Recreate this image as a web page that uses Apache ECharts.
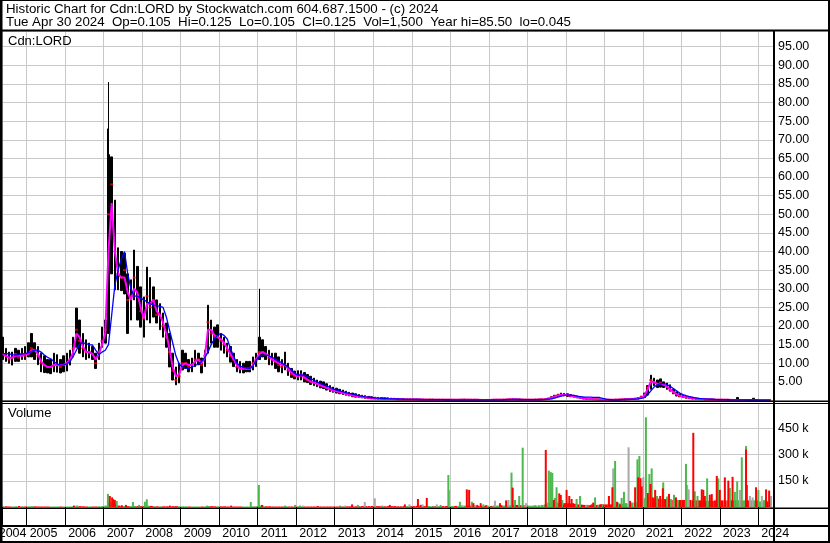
<!DOCTYPE html>
<html>
<head>
<meta charset="utf-8">
<script src="https://cdn.jsdelivr.net/npm/echarts@6/dist/echarts.min.js"></script>
<style>
  html, body { margin: 0; padding: 0; background: #fff; }
  #chart { width: 830px; height: 543px; }
</style>
</head>
<body>
<div id="chart"></div>
<script>
// monthly values, first entry = May 2004, last = Apr 2024
const hi = [
  17, 14, 13, 13, 14, 13.5, 14, 14.5,
  15.5, 18, 15.5, 14.5, 12.7, 12, 11, 11, 12.7, 12.3, 11, 12,
  12.7, 13.5, 17, 24.8, 21.6, 18, 16.3, 15.4, 14.5, 12.7, 15.4, 19.7,
  21.6, 66, 65.4, 53.8, 41, 40, 39.5, 34, 32.4, 40.4, 36, 30.5,
  27.8, 35.8, 33, 30.5, 27, 26, 23.5, 20.8, 18, 12.7, 9, 10,
  13.5, 12.7, 11, 11.4, 13.5, 12.7, 11.4, 13.5, 25.6, 21.6, 19.7, 20.3,
  18, 17, 15.4, 14.5, 12.7, 11, 10.5, 10, 10.5, 10.5, 11.7, 12.7,
  17, 16.3, 14.5, 13.5, 12.7, 12.7, 11.7, 11, 13, 10, 8.6, 7.9,
  8, 8, 7.5, 7, 6.5, 6, 5.5, 5.2, 5, 4.5, 4, 3.6,
  3.3, 3, 2.8, 2.5, 2.2, 2, 1.8, 1.6, 1.4, 1.3, 1.1, 1,
  0.9, 0.85, 0.8, 0.75, 0.7, 0.65, 0.6, 0.55, 0.5, 0.5, 0.45, 0.45,
  0.4, 0.4, 0.4, 0.38, 0.35, 0.35, 0.33, 0.3, 0.3, 0.3, 0.28, 0.28,
  0.3, 0.28, 0.28, 0.3, 0.32, 0.3, 0.3, 0.28, 0.28, 0.26, 0.26, 0.25,
  0.25, 0.28, 0.3, 0.3, 0.3, 0.32, 0.4, 0.45, 0.4, 0.35, 0.32, 0.3,
  0.3, 0.3, 0.32, 0.35, 0.4, 0.45, 0.6, 1.0, 1.4, 1.7, 2.0, 1.9,
  1.8, 1.6, 1.4, 1.2, 1.0, 0.8, 0.6, 0.5, 0.45, 0.4, 0.35, 0.3,
  0.3, 0.28, 0.25, 0.3, 0.35, 0.4, 0.45, 0.5, 0.55, 0.6, 0.8, 1.2,
  2, 4, 6.8, 6, 5.5, 5.8, 5, 4.7, 4.2, 3, 2.3, 1.8,
  1.5, 1.2, 1, 0.9, 0.7, 0.6, 0.5, 0.45, 0.4, 0.4, 0.35, 0.3,
  0.3, 0.28, 0.3, 0.26, 0.25, 0.8, 0.25, 0.22, 0.22, 0.2, 0.6, 0.2,
  0.18, 0.18, 0.16, 0.15
];
const lo = [
  11, 10.5, 10, 9.5, 10.5, 10.5, 11, 11,
  11.7, 11.7, 11, 9.6, 7.7, 7.5, 7.4, 7.2, 7.7, 7.6, 7.4, 7.7,
  7.9, 9.5, 11.7, 14.3, 12.7, 11.7, 11, 11.4, 11, 8.6, 11, 14.3,
  15.4, 18, 34, 29.7, 29.7, 29.5, 28.6, 18, 21.6, 27, 21.6, 19.7,
  17, 21.6, 20.8, 22.4, 20.8, 19, 17, 14.3, 9, 5.5, 4.2, 4.7,
  8.2, 8.6, 7.7, 7.7, 9.1, 9.6, 7.4, 9.1, 12.7, 15.4, 14.3, 14.3,
  13.5, 12.7, 11.7, 10.3, 9.1, 7.7, 7.4, 7.4, 7.7, 7.7, 8.2, 9.1,
  11, 11.7, 11, 9.6, 9.5, 8.6, 7.7, 7.4, 8.2, 6.7, 6.2, 5.8,
  5.5, 5.5, 5, 4.8, 4.3, 4, 3.7, 3.4, 3.2, 2.8, 2.4, 2.2,
  2, 1.8, 1.6, 1.4, 1.2, 1, 0.9, 0.8, 0.7, 0.6, 0.5, 0.45,
  0.4, 0.38, 0.35, 0.33, 0.3, 0.28, 0.26, 0.25, 0.23, 0.22, 0.2, 0.2,
  0.18, 0.18, 0.17, 0.16, 0.15, 0.15, 0.14, 0.14, 0.13, 0.13, 0.12, 0.12,
  0.12, 0.11, 0.12, 0.13, 0.14, 0.13, 0.13, 0.12, 0.12, 0.11, 0.11, 0.1,
  0.1, 0.12, 0.14, 0.14, 0.15, 0.16, 0.2, 0.22, 0.2, 0.18, 0.16, 0.15,
  0.15, 0.15, 0.16, 0.17, 0.2, 0.22, 0.3, 0.5, 0.8, 1.0, 1.2, 1.2,
  1.1, 1.0, 0.9, 0.7, 0.6, 0.45, 0.35, 0.3, 0.25, 0.2, 0.18, 0.16,
  0.15, 0.14, 0.12, 0.14, 0.18, 0.2, 0.22, 0.25, 0.28, 0.3, 0.4, 0.6,
  0.8, 1.5, 3, 4, 3.5, 3.6, 3.5, 3, 2.5, 1.8, 1.2, 1,
  0.8, 0.6, 0.5, 0.4, 0.35, 0.3, 0.25, 0.2, 0.2, 0.15, 0.15, 0.12,
  0.12, 0.11, 0.12, 0.1, 0.1, 0.1, 0.09, 0.09, 0.08, 0.08, 0.08, 0.08,
  0.07, 0.07, 0.06, 0.06
];
const cl = [
  12.5, 12, 11, 11.5, 12.5, 11.5, 12.5, 12,
  12.5, 14, 13.5, 12, 10, 9.5, 9, 9, 9.5, 9.5, 9, 9.5,
  10, 11, 14, 19, 16, 14, 13, 13, 12.5, 10, 13, 16,
  19, 50, 58, 40, 34, 33, 35, 27, 28, 33, 28, 24,
  22, 28, 25, 27, 23, 23, 20, 17, 13, 8, 5.5, 6.5,
  10, 10, 9, 9.5, 11, 11, 9.5, 12, 21, 18, 17, 17,
  16, 15, 13.5, 12, 11, 9, 8.5, 8.5, 8.5, 8.5, 10, 11,
  13, 13, 12.5, 11.5, 11, 10.5, 9.5, 9, 9.5, 8, 7, 6.5,
  6.5, 7, 6, 5.5, 5, 4.8, 4.5, 4, 3.8, 3.3, 3, 2.6,
  2.5, 2.2, 2, 1.8, 1.5, 1.3, 1.2, 1, 0.9, 0.8, 0.7, 0.6,
  0.55, 0.5, 0.48, 0.45, 0.42, 0.4, 0.38, 0.35, 0.32, 0.3, 0.3, 0.28,
  0.26, 0.25, 0.25, 0.24, 0.22, 0.22, 0.21, 0.2, 0.2, 0.19, 0.18, 0.18,
  0.18, 0.17, 0.18, 0.2, 0.2, 0.19, 0.18, 0.18, 0.17, 0.16, 0.15, 0.15,
  0.15, 0.18, 0.2, 0.2, 0.22, 0.24, 0.3, 0.32, 0.28, 0.25, 0.22, 0.2,
  0.2, 0.2, 0.22, 0.24, 0.3, 0.35, 0.5, 0.8, 1.1, 1.4, 1.6, 1.5,
  1.4, 1.3, 1.1, 0.9, 0.7, 0.55, 0.45, 0.4, 0.35, 0.3, 0.25, 0.22,
  0.2, 0.18, 0.16, 0.2, 0.25, 0.3, 0.33, 0.35, 0.4, 0.45, 0.6, 0.9,
  1.6, 3.5, 5.5, 4.8, 4.3, 4.8, 4.2, 3.6, 2.8, 2.2, 1.6, 1.2,
  1, 0.8, 0.7, 0.6, 0.5, 0.4, 0.35, 0.3, 0.3, 0.25, 0.2, 0.2,
  0.18, 0.16, 0.17, 0.15, 0.14, 0.15, 0.13, 0.13, 0.12, 0.12, 0.12, 0.11,
  0.11, 0.12, 0.11, 0.125
];
// one-day spikes [year, low, high]
const spikes = [[2007.10, 40, 73], [2007.12, 30, 85.5], [2011.04, 12, 30]];
// magenta (short) moving average
const maShort = [
  12.5, 12, 11.5, 11.5, 12, 12, 12, 12.5,
  12.5, 13.5, 13.5, 12.5, 10.5, 9.5, 9, 9, 9.5, 9.5, 9.5, 9.5,
  10, 11, 13, 18, 17, 14.5, 13, 13, 12.5, 11, 12.5, 15,
  18, 40, 53, 40, 34, 33, 33, 29, 27, 30, 29, 25,
  22, 26, 26, 27, 24, 23, 21, 18, 14, 9, 6.5, 7,
  9.5, 10, 9.5, 9.5, 10.5, 11, 10, 11.5, 19, 19, 17.5, 17,
  16.5, 15.5, 14, 12.5, 11, 9.5, 8.5, 8.5, 8.5, 8.5, 9.5, 11,
  12.5, 13, 12.5, 12, 11, 10.5, 10, 9.5, 9.5, 8.5, 7.5, 6.8,
  6.6, 6.8, 6.2, 5.6, 5.1, 4.8, 4.5, 4.1, 3.8, 3.4, 3, 2.7,
  2.5, 2.3, 2.1, 1.8, 1.6, 1.4, 1.2, 1.05, 0.95, 0.85, 0.75, 0.65,
  0.58, 0.52, 0.49, 0.46, 0.43, 0.41, 0.39, 0.36, 0.33, 0.31, 0.3, 0.29,
  0.27, 0.26, 0.25, 0.24, 0.23, 0.22, 0.21, 0.2, 0.2, 0.19, 0.19, 0.18,
  0.18, 0.17, 0.18, 0.19, 0.2, 0.19, 0.18, 0.18, 0.17, 0.16, 0.16, 0.15,
  0.15, 0.17, 0.19, 0.2, 0.22, 0.24, 0.28, 0.31, 0.29, 0.26, 0.23, 0.21,
  0.2, 0.2, 0.22, 0.24, 0.28, 0.33, 0.45, 0.7, 1.0, 1.3, 1.5, 1.5,
  1.45, 1.3, 1.15, 0.95, 0.75, 0.6, 0.48, 0.42, 0.36, 0.31, 0.27, 0.23,
  0.21, 0.19, 0.17, 0.19, 0.23, 0.28, 0.32, 0.35, 0.39, 0.44, 0.55, 0.8,
  1.3, 3, 5.1, 5, 4.4, 4.6, 4.3, 3.7, 3, 2.3, 1.7, 1.3,
  1.05, 0.85, 0.72, 0.62, 0.52, 0.43, 0.37, 0.32, 0.3, 0.26, 0.22, 0.2,
  0.19, 0.17, 0.17, 0.16, 0.15, 0.15, 0.14, 0.13, 0.13, 0.12, 0.12, 0.12,
  0.11, 0.12, 0.11, 0.12
];
// blue (long) moving average
const maLong = [
  12.6, 12.6, 12.5, 12.3, 12.2, 12.3, 12.5, 12.6,
  12.8, 13.2, 13.5, 13.5, 13, 12.2, 11.6, 11.2, 10.5, 9.8, 9.5, 9.5,
  9.8, 10.5, 11.8, 13.5, 15.2, 15.5, 15.3, 15, 14.9, 13.5, 12.3, 13,
  13.5, 15, 23, 31, 35, 38, 40, 34, 30, 28, 28, 27.5,
  27, 26.5, 26, 25.6, 25.5, 25.3, 25, 22.5, 19, 15.5, 12, 9.8,
  9, 8.7, 8.6, 9, 9.4, 9.8, 10.5, 11.5, 13, 15, 16.5, 17.5,
  18, 17.5, 16.5, 14, 11.8, 10, 9.2, 8.9, 8.7, 8.6, 9.2, 10.8,
  11.8, 12.1, 12.2, 12, 11.6, 11.1, 10.6, 10.1, 9.5, 9, 8.2, 7.3,
  6.8, 6.9, 6.8, 6.4, 5.9, 5.4, 5, 4.6, 4.2, 3.9, 3.5, 3.1,
  2.8, 2.6, 2.4, 2.1, 1.9, 1.7, 1.5, 1.3, 1.15, 1, 0.9, 0.8,
  0.7, 0.62, 0.56, 0.52, 0.48, 0.45, 0.42, 0.4, 0.37, 0.34, 0.32, 0.3,
  0.29, 0.28, 0.27, 0.26, 0.25, 0.24, 0.23, 0.22, 0.21, 0.21, 0.2, 0.2,
  0.19, 0.19, 0.18, 0.19, 0.19, 0.19, 0.19, 0.18, 0.18, 0.17, 0.17, 0.16,
  0.16, 0.17, 0.18, 0.19, 0.2, 0.22, 0.25, 0.27, 0.28, 0.27, 0.25, 0.23,
  0.21, 0.21, 0.21, 0.22, 0.25, 0.28, 0.33, 0.45, 0.65, 0.9, 1.15, 1.35,
  1.45, 1.45, 1.35, 1.2, 1.05, 0.95, 0.9, 0.88, 0.86, 0.85, 0.8, 0.6,
  0.35, 0.25, 0.2, 0.19, 0.2, 0.23, 0.27, 0.3, 0.33, 0.37, 0.42, 0.55,
  0.8, 1.5, 2.6, 3.6, 4.2, 4.5, 4.6, 4.3, 3.8, 3.2, 2.6, 2,
  1.6, 1.3, 1.05, 0.85, 0.7, 0.58, 0.48, 0.42, 0.37, 0.33, 0.29, 0.26,
  0.23, 0.21, 0.2, 0.18, 0.17, 0.17, 0.16, 0.15, 0.14, 0.14, 0.13, 0.13,
  0.12, 0.12, 0.12, 0.12
];
// typical monthly volume (thousands of shares)
const volMonth = [
  4, 4, 3, 3, 4, 3, 4, 3,
  4, 5, 4, 3, 3, 3, 3, 3, 3, 3, 3, 3,
  3, 3, 5, 8, 5, 4, 3, 3, 3, 3, 4, 5,
  8, 30, 25, 15, 8, 6, 6, 5, 5, 6, 5, 5,
  5, 8, 6, 5, 4, 4, 4, 4, 4, 5, 5, 4,
  4, 4, 3, 3, 3, 3, 3, 3, 6, 5, 4, 4,
  4, 4, 3, 3, 3, 3, 3, 3, 3, 3, 4, 5,
  8, 5, 4, 4, 3, 3, 3, 3, 4, 3, 3, 3,
  4, 4, 3, 3, 3, 3, 3, 3, 3, 3, 3, 3,
  3, 4, 3, 4, 4, 3, 4, 4, 5, 5, 5, 6,
  6, 5, 5, 4, 5, 5, 4, 4, 4, 5, 5, 5,
  5, 6, 6, 5, 6, 5, 5, 5, 5, 5, 5, 5,
  6, 6, 6, 8, 8, 8, 8, 7, 6, 6, 6, 6,
  6, 8, 8, 8, 8, 10, 10, 12, 12, 10, 10, 10,
  8, 8, 8, 10, 12, 15, 25, 32, 30, 25, 22, 22,
  22, 20, 18, 15, 14, 12, 12, 10, 10, 12, 14, 15,
  15, 15, 18, 20, 20, 18, 20, 20, 25, 28, 32, 38,
  50, 55, 55, 50, 48, 45, 45, 45, 42, 40, 40, 40,
  40, 40, 40, 38, 38, 38, 35, 35, 35, 35, 38, 38,
  38, 38, 38, 38, 38, 38, 38, 38, 38, 38, 38, 38,
  32, 32, 32, 32
];
// single heavy sessions [year, thousands]
const volUp = [
  [2007.11, 75], [2007.34, 34], [2007.76, 29], [2007.92, 12], [2008.07, 30], [2008.12, 44],
  [2009.68, 8], [2010.82, 29], [2011.03, 126], [2011.14, 8], [2011.71, 8], [2011.97, 12],
  [2012.10, 8], [2013.14, 8], [2013.60, 12], [2014.23, 8], [2015.43, 6], [2015.56, 5],
  [2015.75, 12], [2015.95, 183], [2016.25, 30], [2016.56, 30], [2016.86, 15],
  [2017.59, 197], [2017.68, 40], [2017.79, 63], [2017.88, 340], [2018.20, 10],
  [2018.56, 208], [2018.61, 200], [2018.65, 195], [2018.72, 52], [2018.76, 113], [2018.91, 40],
  [2019.28, 46], [2019.37, 63], [2019.76, 55], [2019.84, 10], [2019.94, 15],
  [2020.28, 264], [2020.36, 25], [2020.45, 52], [2020.51, 87], [2020.56, 22], [2020.71, 22],
  [2020.86, 273], [2020.91, 292], [2021.08, 514], [2021.17, 189], [2021.23, 221], [2021.37, 63],
  [2021.53, 141], [2021.63, 60], [2021.73, 45], [2021.81, 70], [2021.91, 40],
  [2022.12, 247], [2022.35, 90], [2022.42, 63], [2022.67, 164], [2022.96, 164],
  [2023.26, 109], [2023.39, 87], [2023.45, 146], [2023.57, 285], [2023.68, 349],
  [2024.00, 97], [2024.15, 40]
];
const volDown = [
  [2004.80, 5], [2006.23, 8], [2007.16, 63], [2007.22, 55], [2007.25, 45], [2007.29, 40],
  [2007.47, 10], [2007.58, 12], [2008.25, 6], [2008.72, 8], [2010.31, 8], [2011.11, 12],
  [2012.56, 5], [2013.45, 15], [2014.43, 12], [2014.56, 5], [2014.82, 15], [2015.16, 46],
  [2015.23, 12], [2015.39, 52], [2015.91, 5], [2016.43, 101], [2016.49, 98], [2016.60, 22],
  [2016.70, 12], [2016.79, 22], [2016.93, 10], [2017.07, 6], [2017.29, 22], [2017.33, 10],
  [2017.45, 38], [2017.62, 111], [2017.72, 10], [2018.48, 327], [2018.69, 40], [2018.83, 78],
  [2018.87, 69], [2018.95, 10], [2019.02, 98], [2019.09, 63], [2019.15, 46], [2019.19, 22],
  [2019.44, 12], [2019.67, 15], [2019.71, 25], [2019.91, 15], [2020.12, 63], [2020.17, 10],
  [2020.21, 113], [2020.33, 30], [2020.41, 15], [2020.67, 35], [2020.80, 113], [2020.88, 170],
  [2020.94, 165], [2020.97, 118], [2021.13, 80], [2021.20, 132], [2021.26, 55], [2021.32, 98],
  [2021.45, 63], [2021.52, 107], [2021.58, 45], [2021.68, 75], [2021.86, 55], [2021.96, 35],
  [2022.31, 425], [2022.53, 101], [2022.57, 98], [2022.61, 63], [2022.74, 70], [2022.79, 74],
  [2022.92, 178], [2023.00, 98], [2023.13, 170], [2023.22, 151], [2023.33, 173], [2023.68, 329],
  [2023.70, 126], [2023.94, 113], [2024.20, 101], [2024.28, 94]
];
const volFlat = [
  [2010.93, 5], [2012.17, 8], [2013.27, 8], [2013.78, 29], [2014.04, 50], [2014.94, 15],
  [2015.28, 15], [2015.65, 15], [2015.97, 96], [2016.31, 10], [2016.64, 10], [2016.96, 10],
  [2017.16, 36], [2017.51, 40], [2017.97, 22], [2018.63, 109], [2019.54, 10], [2020.23, 221],
  [2020.63, 342], [2021.01, 170], [2022.15, 126], [2022.19, 101], [2023.52, 98], [2023.78, 63],
  [2023.85, 55], [2024.09, 63], [2024.33, 63]
];

const xMin = 2004.36, xMax = 2024.38;
const monthT = i => 2004 + (4.5 + i) / 12;
const font = '"Liberation Sans", Arial, sans-serif';
const gridColor = '#c8c8c8';
const green = '#4db84d', red = '#ff0000', grey = '#a8a8a8';
const blackBar = { color: '#000', color0: '#000', borderColor: '#000', borderColor0: '#000', borderWidth: 1 };

const bars = hi.map((h, i) => [monthT(i), lo[i], h, lo[i], h]);
const spikeBars = spikes.map(s => [s[0], s[1], s[2], s[1], s[2]]);
const closes = cl.map((c, i) => [monthT(i), c]);
const shortLine = maShort.map((v, i) => [monthT(i), v]);
const longLine = maLong.map((v, i) => [monthT(i), v]);
const baseUp = [], baseDown = [];
volMonth.forEach((v, i) => {
  const up = i === 0 || cl[i] >= cl[i - 1];
  (up ? baseUp : baseDown).push([monthT(i), v]);
});

function rect(x, y, w, h) {
  return { type: 'rect', silent: true, z: 50, shape: { x, y, width: w, height: h }, style: { fill: '#000' } };
}
function label(x, y, text, size, align) {
  return {
    type: 'text', silent: true, z: 60, x, y,
    style: { text, font: size + 'px ' + font, fill: '#000', verticalAlign: 'middle', align: align || 'left' }
  };
}

const chart = echarts.init(document.getElementById('chart'));
chart.setOption({
  animation: false,
  backgroundColor: '#fff',
  grid: [
    { left: 2, width: 771, top: 31, height: 369.5, outerBoundsMode: 'none', containLabel: false },
    { left: 2, width: 771, top: 403.5, height: 103.5, outerBoundsMode: 'none', containLabel: false }
  ],
  xAxis: [
    {
      gridIndex: 0, type: 'value', min: xMin, max: xMax, minInterval: 1, maxInterval: 1,
      axisLine: { show: false }, axisTick: { show: false }, axisLabel: { show: false },
      splitLine: { show: true, lineStyle: { color: gridColor, width: 1 } }
    },
    {
      gridIndex: 1, type: 'value', min: xMin, max: xMax, minInterval: 1, maxInterval: 1,
      axisLine: { show: false },
      axisTick: { show: true, length: 18, lineStyle: { color: '#000', width: 1 } },
      axisLabel: {
        margin: 20, align: 'left', padding: [0, 0, 0, 3], color: '#000',
        fontFamily: font, fontSize: 12.5,
        formatter: v => (Math.abs(v - Math.round(v)) < 1e-6 ? String(Math.round(v)) : '')
      },
      splitLine: { show: true, lineStyle: { color: gridColor, width: 1 } }
    }
  ],
  yAxis: [
    {
      gridIndex: 0, type: 'value', position: 'right', min: 0, max: 99.2, interval: 5,
      axisLine: { show: false }, axisTick: { show: false },
      axisLabel: {
        margin: 5, color: '#000', fontFamily: font, fontSize: 12.5, align: 'left',
        showMinLabel: false, showMaxLabel: false,
        formatter: v => v.toFixed(2)
      },
      splitLine: { show: true, lineStyle: { color: gridColor, width: 1 } }
    },
    {
      gridIndex: 1, type: 'value', position: 'right', min: 0, max: 593, interval: 150,
      axisLine: { show: false }, axisTick: { show: false },
      axisLabel: {
        margin: 5, color: '#000', fontFamily: font, fontSize: 12.5, align: 'left',
        showMinLabel: false, showMaxLabel: false,
        formatter: v => v + ' k'
      },
      splitLine: { show: true, lineStyle: { color: gridColor, width: 1 } }
    }
  ],
  series: [
    { type: 'candlestick', xAxisIndex: 0, yAxisIndex: 0, data: bars, barWidth: 2, itemStyle: blackBar },
    { type: 'candlestick', xAxisIndex: 0, yAxisIndex: 0, data: spikeBars, barWidth: 1, itemStyle: blackBar },
    {
      type: 'scatter', xAxisIndex: 0, yAxisIndex: 0, data: closes, symbol: 'rect', symbolSize: [3, 2],
      itemStyle: { color: red }
    },
    {
      type: 'line', xAxisIndex: 0, yAxisIndex: 0, data: shortLine, showSymbol: false,
      lineStyle: { color: '#ff00ff', width: 2 }, itemStyle: { color: '#ff00ff' }
    },
    {
      type: 'line', xAxisIndex: 0, yAxisIndex: 0, data: longLine, showSymbol: false,
      lineStyle: { color: '#0000ff', width: 1.3 }, itemStyle: { color: '#0000ff' }
    },
    { type: 'bar', xAxisIndex: 1, yAxisIndex: 1, data: baseUp, barWidth: 3, barGap: '-100%', itemStyle: { color: green } },
    { type: 'bar', xAxisIndex: 1, yAxisIndex: 1, data: baseDown, barWidth: 3, barGap: '-100%', itemStyle: { color: red } },
    { type: 'bar', xAxisIndex: 1, yAxisIndex: 1, data: volFlat, barWidth: 2, barGap: '-100%', itemStyle: { color: grey } },
    { type: 'bar', xAxisIndex: 1, yAxisIndex: 1, data: volUp, barWidth: 2, barGap: '-100%', itemStyle: { color: green } },
    { type: 'bar', xAxisIndex: 1, yAxisIndex: 1, data: volDown, barWidth: 2, barGap: '-100%', itemStyle: { color: red } }
  ],
  graphic: [
    rect(0, 0, 830, 1),
    rect(0, 0, 2.5, 543),
    rect(828, 0, 2, 543),
    rect(0, 541, 830, 2),
    rect(0, 29.5, 830, 2),
    rect(0, 400.5, 830, 1.5),
    rect(0, 403, 830, 1),
    rect(0, 507.5, 830, 1.5),
    rect(0, 525, 830, 2),
    rect(773, 30, 2, 511),
    label(6, 9, 'Historic Chart for Cdn:LORD by Stockwatch.com 604.687.1500 - (c) 2024', 13.3),
    label(6, 22.5, 'Tue Apr 30 2024  Op=0.105  Hi=0.125  Lo=0.105  Cl=0.125  Vol=1,500  Year hi=85.50  lo=0.045', 13.3),
    label(8, 41.5, 'Cdn:LORD', 13),
    label(8, 413, 'Volume', 13),
    label(26.5, 534, '2004', 12.5, 'right')
  ]
});
</script>
</body>
</html>
